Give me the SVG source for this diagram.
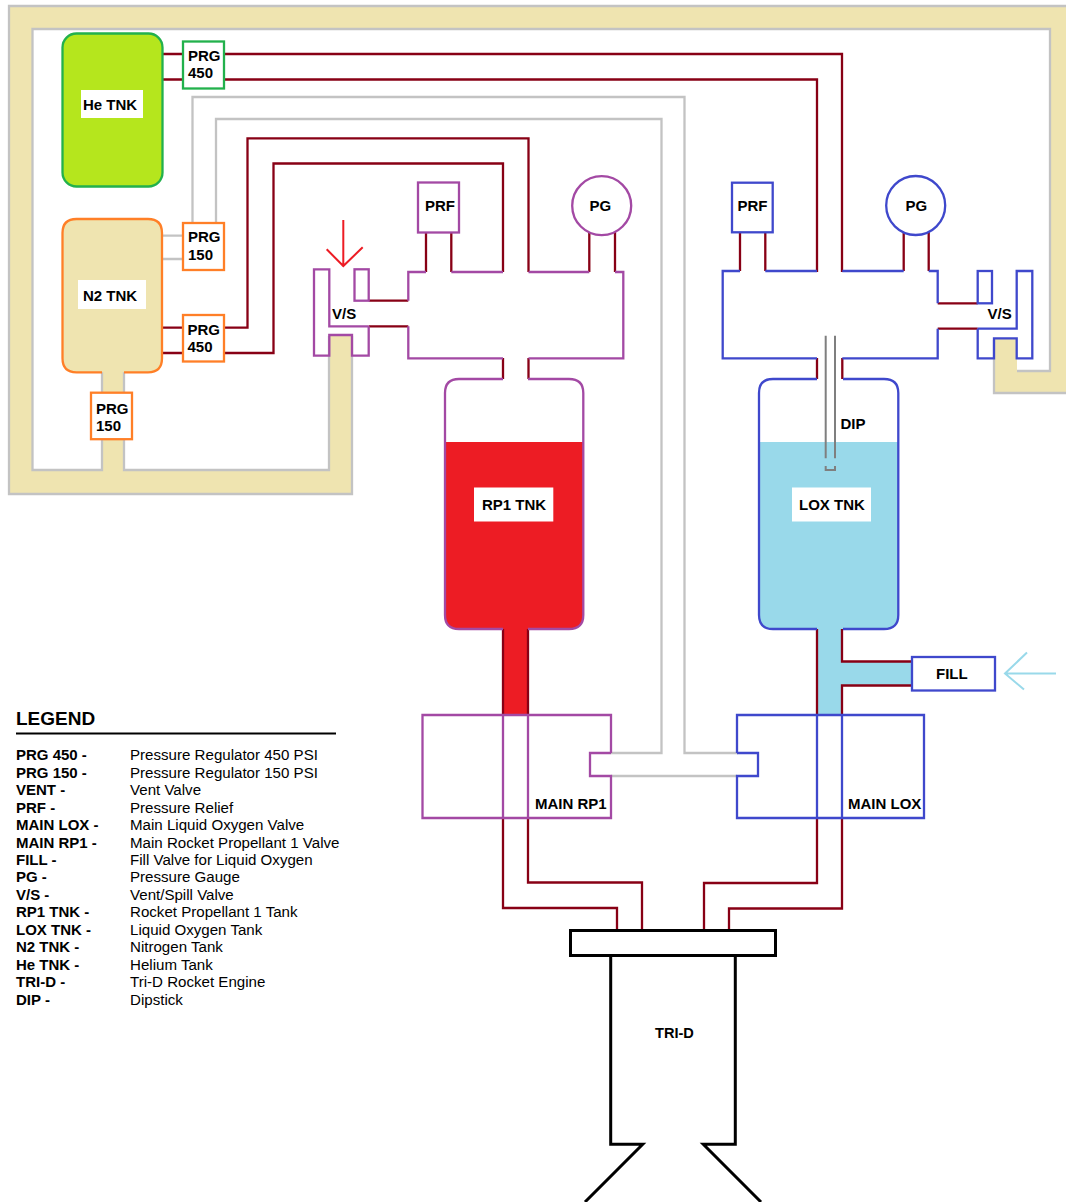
<svg xmlns="http://www.w3.org/2000/svg" width="1066" height="1202" viewBox="0 0 1066 1202">
<style>
text{font-family:"Liberation Sans",Arial,sans-serif;font-size:15px;font-weight:700;fill:#000}
.l{font-weight:400;font-size:15.1px}
path,rect,circle,line{stroke-width:2.3;fill:none}
.rd{stroke:#880015}.gy{stroke:#c3c3c3}.pu{stroke:#a349a4}.bl{stroke:#3f48cc}.or{stroke:#ff7f27}.gn{stroke:#22b14c}.bk{stroke:#000;stroke-width:3}
.w{fill:#fff}.lb{fill:#fff;stroke:none}
</style>
<rect width="1066" height="1202" style="stroke:none;fill:#fff"/>
<g id="connectors">
<path id="n2-fill" d="M9,6H1066V393H994V338H1017V371H1050V29H32.5V470H102V372H124V470H329V335H352V494H9Z" style="fill:#efe4b0;stroke:none"/>
<path class="gy" d="M1066,6H9V494H352V336M329,336V470H124V372M102,372V470H32.5V29H1050V371H1017M994,340V393H1066"/>
<path class="gy" d="M162,235.7H183M162,259H183M192.5,223V97H684.5V753H738M216,223V119H661.5V753H611M611,776H737"/>
<path class="rd" d="M162,54H183M224,54H842V272M162,79.5H183M224,79.5H817V272"/>
<path class="rd" d="M162,327.7H183M224,327.7H247.5V138.3H528.5V272M162,353H183M224,353H273.5V163.5H503V272"/>
<path class="rd" d="M426,272V232M451.3,272V232M589.3,272V231M615,272V231M368.7,300.7H408.3M368.7,326.3H408.3M503,358V379M528.5,358V379"/>
<path class="rd" d="M740,271V232M765.3,271V232M903.7,271V231M928.7,271V231M937.7,303.3H977.7M937.7,328.7H977.7M817,358V379M842.3,358V379"/>
<path d="M503,628H528V715H503Z" style="fill:#ed1c24;stroke:none"/>
<path d="M817,628H842V661.5H912V685.5H842V715H817Z" style="fill:#99d9ea;stroke:none"/>
<path class="rd" d="M503,628V715M528,628V715M817,628V715M842,628V661.5H912M912,685.5H842V715"/>
<path class="rd" d="M503,818V908H617V930M528,818V882.5H642V930M817,818V883H704V930M842,818V908.5H729V930"/>
<path d="M343.3,220V266M326.7,249.3L343.3,266L362.7,247.3" style="stroke:#ed1c24;stroke-width:2"/>
<path d="M1056,673.5H1005M1027,652.5L1005,673.5L1024,689.5" style="stroke:#99d9ea;stroke-width:2"/>
</g>
<g id="he-tnk">
<rect class="gn" x="62.5" y="33.5" width="100" height="153" rx="14" style="fill:#b5e61d"/>
<rect class="lb" x="81" y="90" width="62" height="28"/>
<text x="83" y="109.5">He TNK</text>
</g>
<g id="prg-450-he">
<rect class="gn w" x="183" y="41.5" width="41" height="47"/>
<text x="188" y="60.5">PRG</text><text x="188" y="78">450</text>
</g>
<g id="n2-tnk">
<path d="M102,372.3H76.5Q62.5,372.3 62.5,358.3V233Q62.5,219 76.5,219H148Q162,219 162,233V358.3Q162,372.3 148,372.3H124Z" style="fill:#efe4b0;stroke:none"/>
<path class="or" d="M102,372.3H76.5Q62.5,372.3 62.5,358.3V233Q62.5,219 76.5,219H148Q162,219 162,233V358.3Q162,372.3 148,372.3H124"/>
<rect class="lb" x="78" y="280" width="68" height="29"/>
<text x="83" y="301">N2 TNK</text>
</g>
<g id="prg-150-top">
<rect class="or w" x="183" y="223" width="41" height="47"/>
<text x="188" y="242">PRG</text><text x="188" y="259.5">150</text>
</g>
<g id="prg-450-n2">
<rect class="or w" x="183" y="315" width="41" height="46.5"/>
<text x="187.5" y="334.5">PRG</text><text x="187.5" y="352">450</text>
</g>
<g id="prg-150-low">
<rect class="or w" x="91" y="392.7" width="41" height="46.5"/>
<text x="96" y="413.5">PRG</text><text x="96" y="431">150</text>
</g>
<g id="vs-left">
<path class="pu" d="M368.7,326.3H329.3V269.3H314V355.7H329.3V335H352V355.7H368.7V326.3"/>
<rect class="pu" x="354.5" y="269.3" width="14.2" height="31.4"/>
<text x="332" y="319">V/S</text>
</g>
<g id="manifold-left">
<path class="pu" d="M408.3,300.7V272H426M451.3,272H503M528.5,272H589.3M615,272H623.3V358.3H528.5M503,358.3H408.3V326.3"/>
</g>
<g id="prf-left">
<rect class="pu w" x="418" y="182.5" width="41" height="50"/>
<text x="425" y="211">PRF</text>
</g>
<g id="pg-left">
<circle class="pu w" cx="601.7" cy="205.7" r="29.5"/>
<text x="589.5" y="211">PG</text>
</g>
<g id="rp1-tnk">
<path d="M445,442H583V615Q583,629 569,629H459Q445,629 445,615Z" style="fill:#ed1c24;stroke:none"/>
<path class="pu" d="M503,379H459Q445,379 445,393V615Q445,629 459,629H503M528,629H569Q583.3,629 583.3,615V393Q583.3,379 569,379H528"/>
<rect class="lb" x="474" y="487.5" width="79.3" height="34"/>
<text x="482" y="510.3">RP1 TNK</text>
</g>
<g id="main-rp1">
<path class="pu" d="M611,753V715H422.5V818H611V776H590V753H611M503,715V818M528,715V818"/>
<text x="535" y="809.3">MAIN RP1</text>
</g>
<g id="manifold-right">
<path class="bl" d="M740,271H722.7V358.3H817M842.3,358.3H937.7V328.7M937.7,303.3V271H928.7M903.7,271H842.3M817,271H765.3"/>
</g>
<g id="prf-right">
<rect class="bl w" x="732" y="182.7" width="40.7" height="49.6"/>
<text x="737.5" y="211">PRF</text>
</g>
<g id="pg-right">
<circle class="bl w" cx="915.7" cy="205.5" r="29.5"/>
<text x="905.5" y="211">PG</text>
</g>
<g id="vs-right">
<rect class="bl" x="977.7" y="271" width="14.3" height="32.3"/>
<path class="bl" d="M977.7,328.7H1016.7V271H1032.3V358.3H1016.7V338.3H994V358.3H977.7V328.7"/>
<text x="987.5" y="319.3">V/S</text>
</g>
<g id="lox-tnk">
<path d="M759,442H898V615Q898,629 884,629H773Q759,629 759,615Z" style="fill:#99d9ea;stroke:none"/>
<path class="bl" d="M817,379H773Q759,379 759,393V615Q759,629 773,629H817M843,629H884Q898.3,629 898.3,615V393Q898.3,379 884,379H843"/>
<rect class="lb" x="792" y="487.5" width="79" height="34"/>
<text x="799" y="510.3">LOX TNK</text>
</g>
<g id="dip">
<path d="M825.7,335.7V458.3M835,335.7V458.3M825.7,466V470H835V466" style="stroke:#7f7f7f;stroke-width:2"/>
<text x="840.5" y="428.5">DIP</text>
</g>
<g id="main-lox">
<path class="bl" d="M737,753V715H924V818H737V776H758V753H737M817,715V818M842,715V818"/>
<text x="848" y="809.3">MAIN LOX</text>
</g>
<g id="fill">
<rect class="bl w" x="912" y="657" width="83" height="33.5"/>
<text x="936" y="679">FILL</text>
</g>
<g id="tri-d">
<rect class="bk w" x="570.5" y="930.5" width="205" height="25"/>
<path class="bk" d="M610.7,955.5V1144.3H642.7L585,1202M735.3,955.5V1144.3H703.3L761,1202"/>
<text x="655" y="1038" style="font-size:14.6px">TRI-D</text>
</g>
<g id="legend">
<text x="16" y="724.5" style="font-size:19px">LEGEND</text>
<line x1="16" y1="733.5" x2="336" y2="733.5" style="stroke:#000;stroke-width:2"/>
<text x="16" y="760.2">PRG 450 -</text><text class="l" x="130" y="760.2">Pressure Regulator 450 PSI</text>
<text x="16" y="777.7">PRG 150 -</text><text class="l" x="130" y="777.7">Pressure Regulator 150 PSI</text>
<text x="16" y="795.1">VENT -</text><text class="l" x="130" y="795.1">Vent Valve</text>
<text x="16" y="812.5">PRF -</text><text class="l" x="130" y="812.5">Pressure Relief</text>
<text x="16" y="830">MAIN LOX -</text><text class="l" x="130" y="830">Main Liquid Oxygen Valve</text>
<text x="16" y="847.5">MAIN RP1 -</text><text class="l" x="130" y="847.5">Main Rocket Propellant 1 Valve</text>
<text x="16" y="864.9">FILL -</text><text class="l" x="130" y="864.9">Fill Valve for Liquid Oxygen</text>
<text x="16" y="882.4">PG -</text><text class="l" x="130" y="882.4">Pressure Gauge</text>
<text x="16" y="899.8">V/S -</text><text class="l" x="130" y="899.8">Vent/Spill Valve</text>
<text x="16" y="917.3">RP1 TNK -</text><text class="l" x="130" y="917.3">Rocket Propellant 1 Tank</text>
<text x="16" y="934.7">LOX TNK -</text><text class="l" x="130" y="934.7">Liquid Oxygen Tank</text>
<text x="16" y="952.2">N2 TNK -</text><text class="l" x="130" y="952.2">Nitrogen Tank</text>
<text x="16" y="969.6">He TNK -</text><text class="l" x="130" y="969.6">Helium Tank</text>
<text x="16" y="987.1">TRI-D -</text><text class="l" x="130" y="987.1">Tri-D Rocket Engine</text>
<text x="16" y="1004.5">DIP -</text><text class="l" x="130" y="1004.5">Dipstick</text>
</g>
</svg>
